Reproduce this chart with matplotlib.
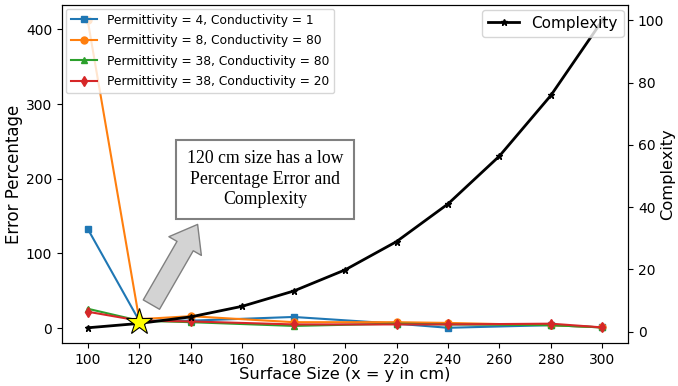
import matplotlib.pyplot as plt
from matplotlib.patches import FancyArrowPatch

# surface sizes (cm)
sizes = [100, 120, 140, 180, 220, 240, 280, 300]
size_all = [100, 120, 140, 160, 180, 200, 220, 240, 260, 280, 300]

# error percentages per material
err_p4_c1 = [133, 10, 10, 15, 6, 0.5, 4, 1]
err_p8_c80 = [412, 12, 16, 8, 8, 7, 4, 1]
err_p38_c80 = [26, 10, 8, 3, 6, 5, 4, 1]
err_p38_c20 = [22, 10, 9, 5, 5, 5, 6, 1]

complexity = [1.2, 2.6, 4.7, 8.1, 13, 19.8, 28.9, 41, 56.4, 75.9, 100]

best_size = 120
best_complexity = 3.2

fig = plt.figure(figsize=(6.78, 3.86), dpi=100)
ax1 = fig.add_axes([0.0914, 0.111, 0.835, 0.876])

ax1.plot(sizes, err_p4_c1, color='tab:blue', marker='s', ms=5, label='Permittivity = 4, Conductivity = 1')
ax1.plot(sizes, err_p8_c80, color='tab:orange', marker='o', ms=5, label='Permittivity = 8, Conductivity = 80')
ax1.plot(sizes, err_p38_c80, color='tab:green', marker='^', ms=5, label='Permittivity = 38, Conductivity = 80')
ax1.plot(sizes, err_p38_c20, color='tab:red', marker='d', ms=5, label='Permittivity = 38, Conductivity = 20')
ax1.set_xlabel('Surface Size (x = y in cm)', fontsize=11.7, labelpad=0)
ax1.set_ylabel('Error Percentage', fontsize=12, labelpad=2)
ax1.set_xticks(size_all)
ax1.tick_params(labelsize=10)
ax1.legend(loc='upper left', fontsize=8.8, borderaxespad=0.3, handlelength=2.2, labelspacing=0.62)

ax2 = ax1.twinx()
ax2.plot(size_all, complexity, color='black', marker='*', ms=5, lw=2, label='Complexity')
ax2.plot(best_size, best_complexity, marker='*', ms=20, color='yellow', mec='black', mew=0.8, zorder=5)
ax2.set_ylabel('Complexity', fontsize=11.7, labelpad=-3)
ax2.tick_params(labelsize=10)
ax2.legend(loc='upper right', fontsize=11, borderaxespad=0.3)

# callout
fig.text(0.391, 0.536, '120 cm size has a low\nPercentage Error and\nComplexity',
         ha='center', va='center', fontsize=12.8, family='Liberation Serif', linespacing=1.25,
         bbox=dict(boxstyle='square,pad=0.6', fc='white', ec='gray', lw=1.5))
arrow = FancyArrowPatch((150 / 678, 1 - 307 / 386), (199 / 678, 1 - 222 / 386),
                        transform=fig.transFigure, arrowstyle='simple,head_width=1.8,head_length=1.2,tail_width=0.9',
                        mutation_scale=15, fc='lightgray', ec='gray', lw=1)
fig.patches.append(arrow)

fig.savefig('out.png', dpi=100)
